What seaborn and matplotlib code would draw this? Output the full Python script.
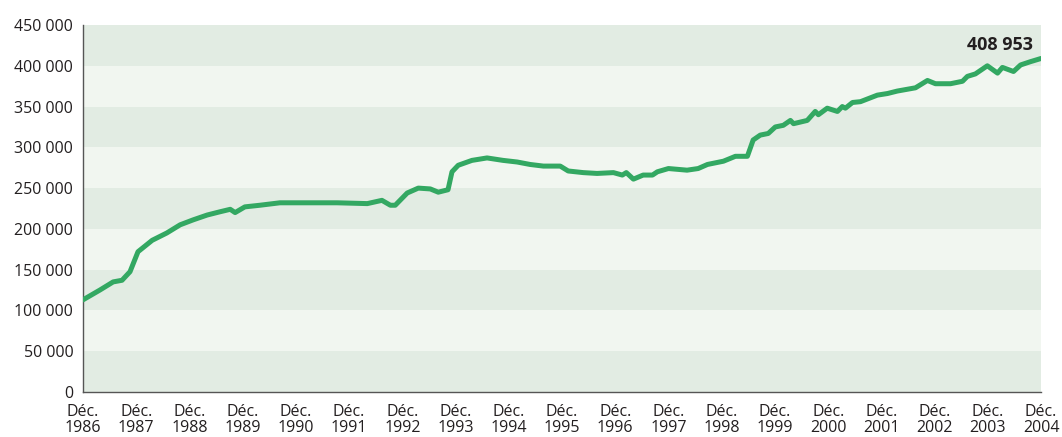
import pandas as pd
import numpy as np
import matplotlib.pyplot as plt
import seaborn as sns

# Mois écoulés depuis décembre 1986 et effectifs
mois = [0, 3.8, 6.8, 8.8, 10.6, 12.4, 15.6, 18.9, 21.9, 24.8, 28, 30.9, 33.2, 34.3,
        36.5, 39.9, 44.4, 49.6, 57.3, 64.1, 67.4, 69.3, 70.4, 73.1, 75.6, 78.3, 80.1,
        82.3, 83.2, 84.6, 87.7, 91.1, 94.7, 97.9, 100.8, 103.8, 107.6, 109.4, 112.8,
        115.9, 119.6, 121.6, 122.5, 124.1, 126.3, 128.4, 129.5, 132, 136.2, 138.7,
        140.8, 144.4, 147.1, 149.8, 151.1, 152.7, 154.5, 156.1, 157.9, 159.5, 160.2,
        163.3, 165.1, 165.8, 167.8, 170.1, 171.2, 171.9, 173.5, 175.3, 179.1, 181.4,
        183.6, 187.7, 190.4, 192.2, 195.6, 198.3, 199.4, 201.2, 203.9, 206.2, 207.3,
        209.8, 211.4, 213.6, 216]
effectifs = [113000, 125000, 135000, 137000, 147500, 172000, 186000, 195000, 205000,
             211000, 217000, 221000, 224000, 220000, 227000, 229000, 232000, 232000,
             232000, 231000, 235000, 229000, 229000, 244000, 250000, 249000, 245000,
             248000, 270000, 278000, 284000, 287000, 284000, 282000, 279000, 277000,
             277000, 271000, 269000, 268000, 269000, 266000, 269000, 261000, 266000,
             266000, 270000, 274000, 272000, 274000, 279000, 283000, 289000, 289000,
             309000, 315000, 317000, 325000, 327000, 333000, 329000, 333000, 344000,
             340000, 348000, 344000, 350000, 348000, 355000, 356000, 364000, 366000,
             369000, 373000, 382000, 378000, 378000, 381000, 387000, 390000, 400000,
             391000, 398000, 393000, 401000, 405000, 408953]

annees = list(range(1986, 2005))
yticks = list(range(0, 450001, 50000))

debut = pd.Timestamp(1986, 12, 1)
fin = pd.Timestamp(2004, 12, 1)
jours_par_mois = (fin - debut).days / 216
df = pd.DataFrame({
    'date': [debut + pd.Timedelta(days=m * jours_par_mois) for m in mois],
    'effectif': effectifs,
})

sns.set_style('white')
plt.rcParams['font.family'] = ['Open Sans', 'DejaVu Sans']

fig = plt.figure(figsize=(10.62, 4.37), dpi=100)
ax = fig.add_axes([83 / 1062, 45 / 437, 958 / 1062, 367 / 437])

# Bandes horizontales alternées
for i, y0 in enumerate(yticks[:-1]):
    couleur = '#e2ece3' if i % 2 == 0 else '#f1f6f0'
    ax.axhspan(y0, y0 + 50000, color=couleur, lw=0, zorder=0)

sns.lineplot(data=df, x='date', y='effectif', color='#33a862', linewidth=3.6, ax=ax,
             solid_joinstyle='round', solid_capstyle='round', zorder=3)

ax.set_xlim(debut, fin)
ax.set_ylim(0, 450000)
ax.set_xticks([pd.Timestamp(a, 12, 1) for a in annees])
ax.set_xticklabels([f'Déc.\n{a}' for a in annees], fontsize=11.5, color='#231f20',
                   linespacing=1.0)
ax.set_yticks(yticks)
ax.set_yticklabels([f'{v:,}'.replace(',', ' ') for v in yticks], fontsize=11.5,
                   color='#231f20')
ax.set_xlabel('')
ax.set_ylabel('')

for s in ['top', 'right']:
    ax.spines[s].set_visible(False)
for s in ['left', 'bottom']:
    ax.spines[s].set_color('#555555')
    ax.spines[s].set_linewidth(1.0)
ax.tick_params(axis='both', direction='out', length=5, width=1, color='#555555', pad=2)
ax.tick_params(axis='x', pad=4)

ax.annotate('408 953', xy=(df['date'].iloc[-1], effectifs[-1]), xytext=(-6, 3),
            textcoords='offset points', ha='right', va='bottom', fontsize=13,
            fontweight='bold', color='#231f20')

fig.savefig('out.png', dpi=100)
